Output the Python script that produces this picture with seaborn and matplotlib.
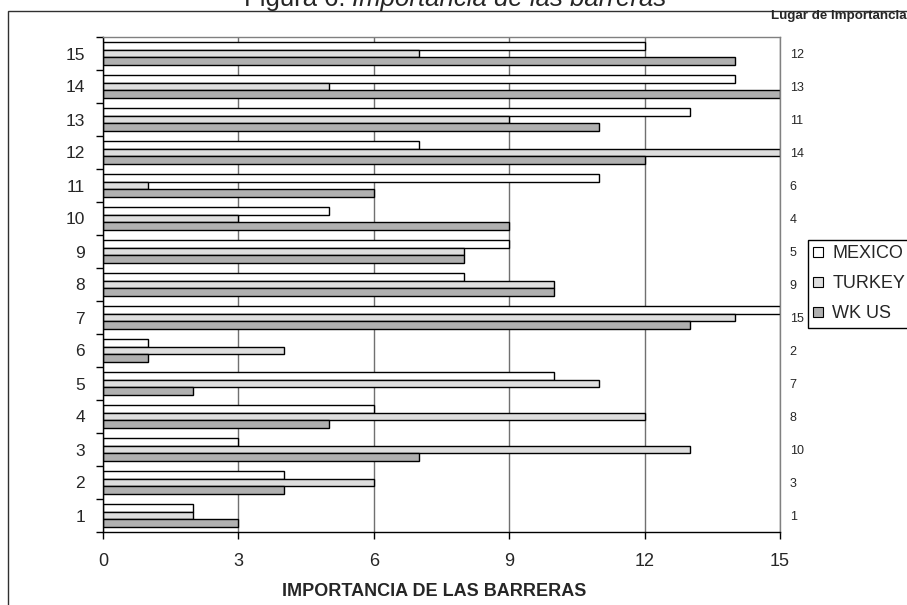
import numpy as np
import pandas as pd
import matplotlib
matplotlib.use('Agg')
import matplotlib.pyplot as plt
import seaborn as sns
from matplotlib.patches import Rectangle

# barreras 1..15 (de abajo hacia arriba)
barreras = [str(i) for i in range(1, 16)]
mexico = [2, 4, 3, 6, 10, 1, 15, 8, 9, 5, 11, 7, 13, 14, 12]
turkey = [2, 6, 13, 12, 11, 4, 14, 10, 8, 3, 1, 15, 9, 5, 7]
wk_us = [3, 4, 7, 5, 2, 1, 13, 10, 8, 9, 6, 12, 11, 15, 14]
lugar = [1, 3, 10, 8, 7, 2, 15, 9, 5, 4, 6, 14, 11, 13, 12]
paises = ['MEXICO', 'TURKEY', 'WK US']
x_ticks = [0, 3, 6, 9, 12, 15]

colores = {'MEXICO': '#ffffff', 'TURKEY': '#dedede', 'WK US': '#b0b0b0'}

df = pd.DataFrame({'barrera': barreras * 3,
                   'pais': np.repeat(paises, len(barreras)),
                   'valor': mexico + turkey + wk_us})

sns.set_style('white')
plt.rcParams['font.family'] = ['Liberation Sans', 'DejaVu Sans']

W, H = 907, 605
fig = plt.figure(figsize=(W / 100, H / 100), dpi=100)
ax = fig.add_axes([103 / W, 1 - 532 / H, (780 - 103) / W, (532 - 37) / H])

sns.barplot(data=df, x='valor', y='barrera', hue='pais', order=barreras[::-1],
            hue_order=paises, palette=colores, orient='h', width=0.667,
            edgecolor='black', linewidth=1, errorbar=None, saturation=1,
            ax=ax, legend=False)

ax.set_xlim(0, 15)
ax.set_xticks(x_ticks)
ax.set_ylim(14.5, -0.5)
ax.xaxis.grid(True, color='#707070', lw=1)
ax.yaxis.grid(False)
ax.set_axisbelow(True)
ax.set_xlabel('')
ax.set_ylabel('')

# ticks: labels centred on each group, tick marks between groups
ax.set_yticks(np.arange(-0.5, 15, 1), minor=True)
ax.tick_params(axis='y', which='major', length=0, pad=13, labelsize=12.5)
ax.tick_params(axis='y', which='minor', left=True, length=5, width=1, color='black')
ax.tick_params(axis='x', which='major', bottom=True, length=5, width=1, color='black',
               pad=10, labelsize=13)

for s in ['top', 'right']:
    ax.spines[s].set_color('#808080')
    ax.spines[s].set_linewidth(1)
for s in ['left', 'bottom']:
    ax.spines[s].set_color('black')
    ax.spines[s].set_linewidth(1)

# lugar de importancia on the right side
ax2 = ax.twinx()
ax2.set_ylim(ax.get_ylim())
ax2.set_yticks(range(len(barreras)))
ax2.set_yticklabels([str(v) for v in lugar[::-1]])
ax2.tick_params(axis='y', length=0, pad=7, labelsize=9)
for s in ax2.spines.values():
    s.set_visible(False)

fig.text(771 / W, 1 - 19.5 / H, 'Lugar de importancia', fontsize=9.6,
         fontweight='bold', ha='left', va='baseline')

fig.text(434 / W, 1 - 591 / H, 'IMPORTANCIA DE LAS BARRERAS', fontsize=13,
         fontweight='bold', ha='center', va='center')

# title (cut at the top, as in the original)
fig.text(345 / W, 1 - 6 / H, 'Figura 6:', fontsize=18.5, ha='right', va='baseline')
fig.text(352 / W, 1 - 6 / H, 'Importancia de las barreras', fontsize=18.5,
         style='italic', ha='left', va='baseline')

# legend
handles = [Rectangle((0, 0), 1, 1, facecolor=colores[p], edgecolor='black', lw=0.8)
           for p in paises]
leg = fig.legend(handles, paises, loc='upper left',
                 bbox_to_anchor=(808 / W, 1 - 240 / H), fontsize=13,
                 frameon=True, fancybox=False, edgecolor='black', framealpha=1,
                 handlelength=0.55, handleheight=0.55, handletextpad=0.5,
                 labelspacing=0.72, borderpad=0.3, borderaxespad=0)
leg.get_frame().set_linewidth(1)

# chart border (only left and top edges fall inside the picture)
fig.add_artist(Rectangle((8 / W, -0.1), 1.2, 1 - 11 / H + 0.1,
                         transform=fig.transFigure, fill=False,
                         edgecolor='#303030', lw=1))

fig.savefig('out.png', dpi=100)
